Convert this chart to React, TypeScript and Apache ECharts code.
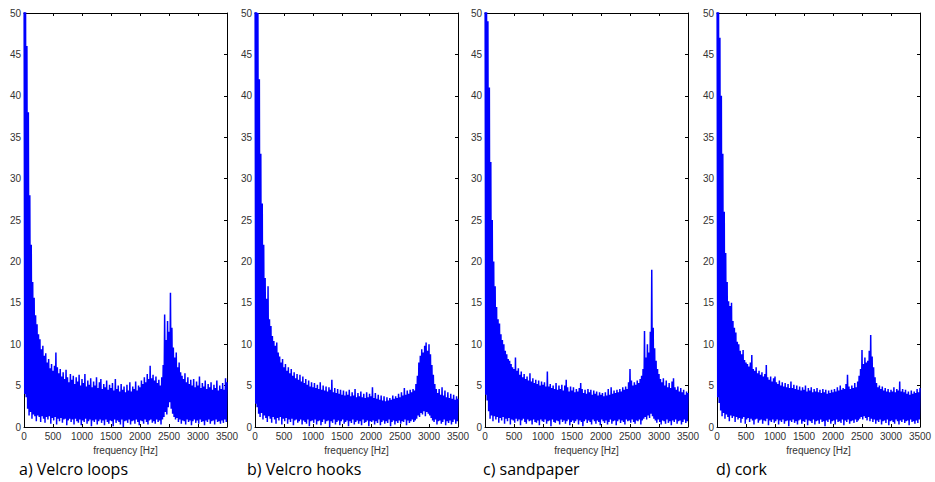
import React, { useEffect, useRef } from "react";
import * as echarts from "echarts";

// Panel captions
const CAPTIONS = ["a) Velcro loops", "b) Velcro hooks", "c) sandpaper", "d) cork"];
const X_NAME = "frequency [Hz]";
const X_MIN = 0;
const X_MAX = 3500;
const X_INTERVAL = 500;
const Y_MIN = 0;
const Y_MAX = 50;
const Y_INTERVAL = 5;

// Spectrum sampled every 25 Hz (peak values at k*25 Hz, trough values at k*25+12.5 Hz)
const STEP_HZ = 25;

const PEAKS_A = [
  62, 58, 46, 38, 28, 22, 17.5, 15.6, 13.5, 12.4,
  11.2, 10.6, 9.4, 9.8, 8.6, 8.9, 7.8, 8.2, 7.1, 7.6,
  6.8, 7.4, 9.0, 7.2, 6.5, 7.0, 6.1, 6.6, 5.8, 6.9,
  6.0, 5.4, 6.4, 5.7, 6.2, 5.2, 6.0, 5.5, 6.3, 5.0,
  5.8, 5.3, 6.4, 4.9, 5.6, 5.1, 5.9, 4.8, 5.5, 5.0,
  6.0, 4.7, 5.4, 5.8, 4.6, 5.2, 4.8, 5.6, 4.5, 5.1,
  4.7, 5.3, 4.4, 5.8, 4.6, 5.0, 4.3, 5.2, 4.5, 4.9,
  4.2, 5.1, 4.4, 5.4, 4.3, 4.9, 4.6, 5.5, 4.4, 5.0,
  4.8, 5.6, 5.2, 6.0, 5.4, 6.4, 5.8, 7.4, 5.9, 6.3,
  5.6, 6.1, 5.3, 5.7, 5.0, 6.0, 7.5, 13.6, 10.5, 12.8,
  11.5, 16.2, 12.0, 9.6, 8.4, 9.0, 7.2, 7.8, 6.6, 6.2,
  5.8, 6.5, 5.4, 6.0, 5.2, 5.7, 5.0, 5.8, 4.8, 5.5,
  5.0, 6.1, 4.7, 5.3, 4.9, 5.6, 4.6, 5.2, 4.8, 5.4,
  4.5, 5.1, 4.7, 5.6, 4.4, 5.0, 4.6, 5.3, 4.5, 5.9,
  5.4,
];
const TROUGHS_A = [
  4.0, 3.6, 2.2, 1.4, 1.8, 1.0, 1.5, 1.3, 0.7, 1.4,
  1.2, 0.6, 1.3, 1.0, 0.5, 1.2, 0.9, 1.3, 0.4, 1.1,
  0.8, 1.2, 0.3, 1.0, 0.7, 1.1, 0.5, 0.9, 1.0, 0.2,
  0.8, 1.0, 0.6, 0.9, 0.3, 1.0, 0.7, 0.5, 0.9, 0.2,
  0.8, 0.6, 1.0, 0.4, 0.7, 0.9, 0.1, 0.8, 0.6, 0.9,
  0.3, 0.7, 0.9, 0.5, 0.8, 0.2, 0.9, 0.6, 0.4, 0.8,
  0.7, 0.1, 0.9, 0.5, 0.8, 0.6, 0.3, 0.9, 0.0, 0.7,
  0.8, 0.5, 0.9, 0.3, 0.7, 0.8, 0.4, 0.9, 0.6, 0.2,
  0.8, 0.7, 0.4, 0.9, 0.6, 0.3, 0.8, 0.9, 0.5, 0.7,
  0.4, 0.9, 0.6, 0.8, 0.3, 0.9, 1.2, 1.8, 1.5, 2.4,
  3.0, 2.2, 1.6, 1.2, 0.9, 1.1, 0.6, 0.9, 0.4, 0.8,
  0.7, 0.3, 0.9, 0.6, 0.8, 0.2, 0.7, 0.9, 0.5, 0.8,
  0.4, 0.9, 0.6, 0.7, 0.2, 0.8, 0.6, 0.9, 0.4, 0.7,
  0.8, 0.3, 0.9, 0.6, 0.7, 0.4, 0.8, 0.5, 0.9, 0.6,
];

const PEAKS_B = [
  62, 58, 50, 42, 33, 27, 22, 18, 15.5, 17,
  13, 12.2, 11, 10.4, 9.8, 10.2, 9.0, 8.5, 7.8, 8.2,
  7.2, 7.6, 6.8, 7.2, 6.5, 7.0, 6.2, 6.6, 5.9, 6.4,
  5.7, 6.3, 5.5, 6.1, 5.3, 5.8, 5.1, 5.6, 4.9, 5.4,
  4.8, 5.3, 4.7, 5.1, 4.6, 5.4, 4.5, 5.0, 4.4, 4.9,
  4.3, 4.8, 4.5, 5.7, 4.2, 4.7, 4.1, 4.6, 4.0, 4.5,
  3.9, 4.4, 3.8, 4.3, 3.9, 4.5, 3.7, 4.2, 3.8, 4.6,
  3.6, 4.1, 3.7, 4.3, 3.6, 4.0, 3.5, 4.2, 3.6, 4.0,
  3.7, 4.8, 3.5, 4.1, 3.4, 3.9, 3.3, 3.8, 3.2, 3.7,
  3.1, 3.6, 3.2, 3.5, 3.3, 3.8, 3.4, 3.7, 3.5, 4.0,
  3.6, 4.2, 3.8, 4.7, 3.9, 4.4, 4.0, 4.5, 4.2, 4.6,
  4.4, 5.2, 6.2, 7.8, 8.6, 9.4, 9.0, 9.8, 10.2, 9.2,
  10.0, 8.8, 7.5, 6.3, 5.2, 4.6, 4.1, 4.6, 3.9, 4.8,
  3.8, 4.4, 3.6, 4.2, 3.5, 4.0, 3.4, 3.9, 3.3, 3.7,
  3.4,
];
const TROUGHS_B = [
  2.8, 2.4, 1.6, 1.2, 1.7, 0.9, 1.4, 1.1, 0.6, 1.3,
  1.0, 0.5, 1.2, 0.9, 0.4, 1.1, 0.8, 1.2, 0.3, 1.0,
  0.7, 1.1, 0.4, 0.9, 0.6, 1.0, 0.2, 0.8, 0.9, 0.5,
  0.7, 0.9, 0.3, 0.8, 0.6, 0.4, 0.9, 0.1, 0.7, 0.8,
  0.5, 0.9, 0.3, 0.7, 0.8, 0.2, 0.6, 0.9, 0.4, 0.7,
  0.8, 0.0, 0.7, 0.5, 0.9, 0.3, 0.6, 0.8, 0.2, 0.7,
  0.9, 0.4, 0.6, 0.8, 0.1, 0.7, 0.5, 0.9, 0.3, 0.6,
  0.8, 0.4, 0.7, 0.2, 0.9, 0.5, 0.6, 0.8, 0.1, 0.7,
  0.6, 0.8, 0.3, 0.7, 0.5, 0.9, 0.2, 0.6, 0.8, 0.4,
  0.7, 0.5, 0.9, 0.1, 0.6, 0.8, 0.3, 0.7, 0.5, 0.8,
  0.4, 0.7, 0.6, 0.9, 0.2, 0.8, 0.5, 0.7, 0.9, 0.6,
  0.8, 1.0, 1.4, 1.2, 1.7, 1.5, 1.9, 1.3, 1.8, 1.6,
  1.4, 1.1, 0.8, 0.6, 0.9, 0.3, 0.7, 0.8, 0.4, 0.6,
  0.9, 0.2, 0.7, 0.5, 0.8, 0.3, 0.6, 0.9, 0.4, 0.7,
];

const PEAKS_C = [
  62, 57, 49, 41, 32, 25, 20, 17, 14.5, 13,
  12.5, 11.2, 10.5, 10.0, 9.2, 8.8, 8.2, 8.0, 7.6, 7.2,
  7.0, 8.4, 6.8, 7.1, 6.3, 6.7, 6.0, 6.4, 5.8, 6.1,
  5.6, 6.5, 5.5, 5.9, 5.3, 5.7, 5.2, 5.6, 5.0, 5.5,
  5.1, 5.4, 4.9, 6.7, 4.9, 5.2, 4.7, 5.0, 4.6, 5.3,
  4.5, 5.0, 4.6, 5.1, 4.4, 5.0, 5.7, 4.8, 4.3, 4.9,
  4.4, 4.8, 4.2, 4.6, 4.3, 4.7, 5.3, 4.6, 4.1, 4.5,
  4.0, 4.6, 4.2, 4.5, 3.9, 4.4, 4.0, 4.3, 3.8, 4.2,
  3.9, 4.1, 3.7, 4.2, 3.8, 4.6, 3.9, 4.8, 4.0, 4.4,
  4.1, 4.5, 4.2, 4.6, 4.3, 4.8, 4.5, 4.9, 4.6, 5.4,
  7.0, 5.6, 5.0, 5.4, 5.1, 5.6, 5.3, 5.8, 6.2, 7.0,
  11.6, 8.4, 10.0, 9.0, 11.5, 19.0, 12.0, 9.5, 8.0, 7.0,
  6.4, 5.8, 5.4, 5.9, 5.0, 5.6, 4.8, 5.3, 4.7, 5.5,
  5.9, 4.8, 4.5, 4.9, 4.3, 4.7, 4.2, 4.5, 3.9, 4.3,
  4.1,
];
const TROUGHS_C = [
  3.9, 3.2, 1.9, 1.0, 1.4, 0.7, 1.3, 0.9, 1.2, 0.5,
  1.1, 0.8, 1.2, 0.4, 1.0, 0.7, 1.1, 0.3, 0.9, 0.8,
  0.5, 1.0, 0.7, 0.9, 0.2, 0.8, 1.0, 0.6, 0.4, 0.9,
  0.7, 0.8, 0.3, 0.9, 0.6, 0.5, 0.8, 0.2, 0.9, 0.7,
  0.6, 0.9, 0.4, 0.7, 0.8, 0.1, 0.9, 0.6, 0.5, 0.8,
  0.7, 0.3, 0.9, 0.6, 0.8, 0.4, 0.7, 0.9, 0.2, 0.6,
  0.8, 0.5, 0.7, 0.9, 0.3, 0.8, 0.6, 0.1, 0.7, 0.9,
  0.5, 0.8, 0.6, 0.3, 0.9, 0.7, 0.4, 0.8, 0.6, 0.2,
  0.9, 0.7, 0.5, 0.8, 0.3, 0.6, 0.9, 0.4, 0.7, 0.8,
  0.2, 0.7, 0.9, 0.5, 0.8, 0.6, 0.3, 0.9, 0.7, 0.8,
  0.5, 0.9, 0.6, 0.4, 0.8, 0.7, 0.9, 0.3, 0.8, 1.0,
  1.2, 0.9, 1.4, 1.1, 1.6, 1.3, 1.0, 0.8, 0.5, 0.9,
  0.6, 0.3, 0.8, 0.7, 0.4, 0.9, 0.5, 0.7, 0.2, 0.8,
  0.6, 0.9, 0.4, 0.7, 0.8, 0.3, 0.6, 0.9, 0.5, 0.7,
];

const PEAKS_D = [
  62, 57, 47, 40, 33, 26, 21, 17.5, 15.2, 14.6,
  15.0, 12.8, 12.0, 11.4, 10.3, 10.0, 9.2, 8.8, 9.3, 8.1,
  7.8, 7.6, 7.3, 7.8, 8.7, 7.0, 6.8, 7.2, 6.5, 6.8,
  6.3, 6.6, 6.1, 6.4, 7.5, 6.0, 5.7, 6.1, 5.5, 5.9,
  6.1, 5.4, 5.2, 5.6, 5.0, 5.4, 4.9, 5.3, 4.8, 5.2,
  4.7, 5.5, 4.7, 5.1, 4.6, 5.0, 4.5, 4.9, 4.4, 4.8,
  4.5, 5.0, 4.3, 4.7, 4.4, 4.8, 4.2, 4.6, 4.3, 4.7,
  4.2, 4.5, 4.1, 4.6, 4.2, 4.5, 4.0, 4.4, 4.1, 4.5,
  4.2, 4.6, 4.3, 4.8, 4.4, 5.0, 4.5, 4.7, 4.6, 5.2,
  6.3, 4.9, 4.6, 5.0, 4.7, 5.3, 4.8, 5.5, 6.2, 7.0,
  9.3, 7.6, 8.4, 7.8, 8.0, 9.2, 11.1, 8.5, 7.2, 6.0,
  5.3, 4.8, 5.0, 4.6, 4.9, 4.4, 4.7, 4.3, 4.6, 4.2,
  4.5, 4.3, 4.8, 4.2, 4.6, 4.4, 5.5, 4.3, 4.6, 4.2,
  4.5, 4.0, 4.3, 3.9, 4.4, 4.0, 4.3, 4.1, 4.6, 4.2,
  4.7,
];
const TROUGHS_D = [
  3.6, 2.9, 2.0, 1.3, 1.7, 1.0, 1.5, 1.2, 0.7, 1.4,
  1.1, 1.3, 0.6, 1.2, 0.9, 1.1, 0.5, 1.0, 1.2, 0.4,
  0.9, 1.1, 0.6, 1.0, 0.8, 0.3, 0.9, 1.0, 0.5, 0.8,
  0.9, 0.4, 0.8, 0.7, 1.0, 0.2, 0.8, 0.6, 0.9, 0.5,
  0.7, 0.9, 0.3, 0.8, 0.6, 0.9, 0.4, 0.7, 0.8, 0.1,
  0.8, 0.6, 0.9, 0.5, 0.7, 0.3, 0.8, 0.9, 0.4, 0.7,
  0.6, 0.9, 0.2, 0.8, 0.7, 0.5, 0.9, 0.3, 0.7, 0.8,
  0.4, 0.9, 0.6, 0.7, 0.1, 0.8, 0.6, 0.9, 0.4, 0.7,
  0.8, 0.3, 0.9, 0.6, 0.7, 0.5, 0.9, 0.2, 0.8, 0.6,
  0.9, 0.4, 0.7, 0.8, 0.5, 0.9, 0.6, 0.8, 1.0, 1.2,
  0.9, 1.3, 1.1, 0.8, 1.2, 0.7, 1.0, 0.6, 0.9, 0.4,
  0.8, 0.6, 0.9, 0.3, 0.7, 0.8, 0.5, 0.9, 0.2, 0.7,
  0.8, 0.6, 0.4, 0.9, 0.7, 0.3, 0.8, 0.6, 0.9, 0.5,
  0.7, 0.8, 0.2, 0.9, 0.6, 0.7, 0.4, 0.8, 0.5, 0.9,
];

const PEAKS = [PEAKS_A, PEAKS_B, PEAKS_C, PEAKS_D];
const TROUGHS = [TROUGHS_A, TROUGHS_B, TROUGHS_C, TROUGHS_D];

// layout (pixels)
const PANEL_LEFT = [24, 255, 485, 717];
const PANEL_TOP = 13;
const PANEL_W = 203;
const PANEL_H = 414;
const CAPTION_X = [19, 247, 483, 716];
const CAPTION_Y = 472;

const LINE_COLOR = "#0000ff";
const TEXT_COLOR = "#333333";
const AXIS_FONT = "Liberation Sans, Arial, sans-serif";

function buildSeriesData(peaks: number[], troughs: number[]) {
  const out: [number, number][] = [];
  for (let i = 0; i < peaks.length; i++) {
    out.push([i * STEP_HZ, peaks[i]]);
    if (i < troughs.length) out.push([i * STEP_HZ + STEP_HZ / 2, troughs[i]]);
  }
  return out;
}

export default function App() {
  const ref = useRef<HTMLDivElement>(null);
  useEffect(() => {
    if (!ref.current) return;
    const chart = echarts.init(ref.current, undefined, { renderer: "svg" });
    const grids: any[] = [];
    const xAxes: any[] = [];
    const yAxes: any[] = [];
    const series: any[] = [];
    const tickStyle = { color: "#000", width: 1 };
    PANEL_LEFT.forEach((left, i) => {
      grids.push({ left, top: PANEL_TOP, width: PANEL_W, height: PANEL_H, containLabel: false });
      const xBase = {
        gridIndex: i,
        type: "value",
        min: X_MIN,
        max: X_MAX,
        interval: X_INTERVAL,
        splitLine: { show: false },
        axisLine: { show: true, onZero: false, lineStyle: tickStyle },
        axisTick: { show: true, inside: true, length: 3, lineStyle: tickStyle },
      };
      xAxes.push({
        ...xBase,
        position: "bottom",
        axisLabel: {
          fontSize: 10,
          color: TEXT_COLOR,
          margin: 4,
          fontFamily: AXIS_FONT,
          formatter: (v: number) => String(v),
        },
        name: X_NAME,
        nameLocation: "middle",
        nameGap: 15,
        nameTextStyle: { fontSize: 10, color: TEXT_COLOR, fontFamily: AXIS_FONT },
      });
      xAxes.push({ ...xBase, position: "top", axisLabel: { show: false } });
      const yBase = {
        gridIndex: i,
        type: "value",
        min: Y_MIN,
        max: Y_MAX,
        interval: Y_INTERVAL,
        splitLine: { show: false },
        axisLine: { show: true, onZero: false, lineStyle: tickStyle },
        axisTick: { show: true, inside: true, length: 3, lineStyle: tickStyle },
      };
      yAxes.push({
        ...yBase,
        position: "left",
        axisLabel: {
          fontSize: 10,
          color: TEXT_COLOR,
          margin: 3,
          fontFamily: AXIS_FONT,
          formatter: (v: number) => String(v),
        },
      });
      yAxes.push({ ...yBase, position: "right", axisLabel: { show: false } });
      series.push({
        type: "line",
        xAxisIndex: i * 2,
        yAxisIndex: i * 2,
        data: buildSeriesData(PEAKS[i], TROUGHS[i]),
        showSymbol: false,
        symbol: "none",
        clip: true,
        lineStyle: { color: LINE_COLOR, width: 1.5, join: "miter", miterLimit: 2 },
        z: 1,
      });
    });
    chart.setOption({
      animation: false,
      backgroundColor: "#fff",
      grid: grids,
      xAxis: xAxes,
      yAxis: yAxes,
      series,
      graphic: CAPTIONS.map((t, i) => ({
        type: "text",
        left: CAPTION_X[i],
        top: CAPTION_Y - 11,
        style: { text: t, fontSize: 16, fontFamily: "Open Sans, sans-serif", fill: "#000" },
      })),
    });
    return () => chart.dispose();
  }, []);
  return (
    <div
      ref={ref}
      style={{ position: "fixed", left: 0, top: 0, width: 935, height: 482 }}
    />
  );
}
